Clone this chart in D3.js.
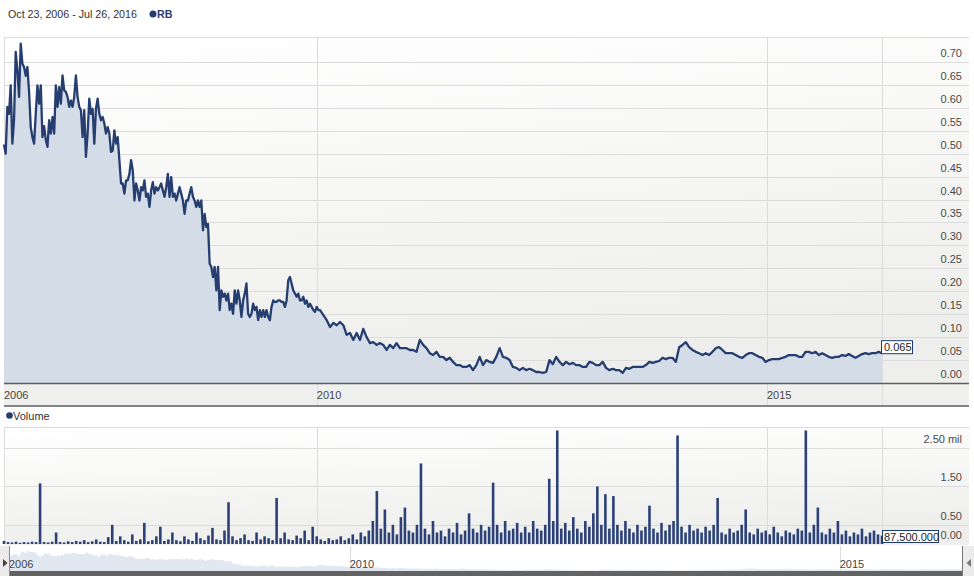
<!DOCTYPE html>
<html><head><meta charset="utf-8">
<script src="https://cdn.jsdelivr.net/npm/d3@7"></script>
<style>body{margin:0;background:#fff;} svg{display:block;font-family:Arial,"Liberation Sans",sans-serif;}</style>
</head><body><svg id="c" width="974" height="582"></svg>
<script>
// ---------------- DATA ----------------
const startDate = "2006-10-23", endDate = "2016-07-26";
const splitDateA = "2010-04-21", startDateB = "2010-04-28";
// weekly closes, Oct 2006 - Apr 2010
const priceA = [
0.520,0.500,0.602,0.587,0.649,0.522,0.573,0.722,0.682,0.624,
0.740,0.696,0.689,0.670,0.689,0.635,0.558,0.536,0.522,0.587,
0.649,0.609,0.649,0.536,0.560,0.530,0.515,0.573,0.544,0.580,
0.544,0.649,0.602,0.645,0.609,0.671,0.638,0.635,0.624,0.602,
0.616,0.602,0.624,0.671,0.624,0.602,0.595,0.536,0.595,0.493,
0.544,0.620,0.587,0.598,0.522,0.598,0.620,0.587,0.573,0.580,
0.566,0.544,0.558,0.544,0.504,0.507,0.551,0.522,0.536,0.486,
0.435,0.435,0.413,0.442,0.442,0.456,0.486,0.464,0.398,0.435,
0.420,0.398,0.427,0.420,0.442,0.406,0.413,0.384,0.420,0.438,
0.413,0.427,0.420,0.427,0.435,0.420,0.406,0.427,0.456,0.406,
0.449,0.406,0.413,0.398,0.413,0.427,0.413,0.398,0.369,0.398,
0.398,0.413,0.427,0.406,0.398,0.384,0.398,0.384,0.398,0.333,
0.369,0.340,0.347,0.260,0.253,0.231,0.253,0.202,0.253,0.159,
0.202,0.188,0.195,0.180,0.195,0.159,0.173,0.151,0.202,0.173,
0.202,0.180,0.144,0.180,0.195,0.217,0.151,0.144,0.151,0.173,
0.159,0.166,0.137,0.159,0.144,0.159,0.144,0.159,0.144,0.137,
0.166,0.180,0.177,0.177,0.180,0.180,0.177,0.177,0.166,0.180,
0.224,0.231,0.217,0.202,0.195,0.188,0.195,0.180,0.180,0.188,
0.173,0.180,0.166,0.173,0.166,0.159,0.155,0.166,0.159
];
// bi-weekly closes, Apr 2010 - Jul 2016
const priceB = [
0.159,0.148,0.137,0.122,0.131,0.126,0.133,0.126,0.105,0.109,
0.094,0.109,0.094,0.118,0.100,0.087,0.089,0.083,0.087,0.083,
0.072,0.083,0.076,0.087,0.076,0.076,0.076,0.072,0.072,0.068,
0.094,0.083,0.076,0.065,0.061,0.068,0.057,0.057,0.050,0.055,
0.046,0.039,0.039,0.035,0.035,0.039,0.028,0.039,0.057,0.039,
0.050,0.046,0.044,0.057,0.076,0.057,0.055,0.050,0.035,0.033,
0.028,0.033,0.028,0.031,0.028,0.024,0.024,0.022,0.024,0.050,
0.041,0.057,0.046,0.039,0.046,0.041,0.044,0.039,0.039,0.035,
0.035,0.046,0.044,0.039,0.039,
0.046,0.033,0.028,0.031,0.028,0.028,0.022,0.033,0.031,0.035,
0.035,0.035,0.035,0.039,0.046,0.044,0.046,0.048,0.055,0.052,
0.055,0.055,0.046,0.078,0.083,0.089,0.078,0.072,0.068,0.065,
0.061,0.065,0.061,0.068,0.076,0.078,0.072,0.065,0.065,0.065,
0.061,0.057,0.055,0.061,0.065,0.065,0.061,0.057,0.055,0.046,
0.050,0.052,0.052,0.052,0.055,0.057,0.061,0.061,0.061,0.057,
0.057,0.068,0.068,0.065,0.068,0.061,0.065,0.061,0.057,0.055,
0.057,0.057,0.061,0.059,0.063,0.059,0.055,0.059,0.063,0.065,
0.063,0.065,0.065,0.068,0.065
];
// volume in millions of shares (periodic bars)
const volume = [
0.08,0.05,0.04,0.06,0.03,0.05,0.04,0.06,0.05,1.58,
0.05,0.04,0.06,0.30,0.05,0.04,0.07,0.05,0.08,0.06,
0.10,0.05,0.07,0.12,0.06,0.05,0.18,0.50,0.08,0.20,
0.10,0.06,0.25,0.08,0.12,0.55,0.07,0.10,0.20,0.45,
0.08,0.12,0.30,0.10,0.07,0.20,0.12,0.08,0.30,0.15,
0.10,0.22,0.42,0.12,0.10,0.35,1.09,0.20,0.10,0.15,
0.25,0.10,0.08,0.30,0.12,0.20,0.15,0.10,1.20,0.15,
0.30,0.12,0.10,0.22,0.15,0.35,0.10,0.45,0.20,0.12,
0.08,0.15,0.10,0.12,0.20,0.10,0.15,0.25,0.12,0.30,
0.20,0.35,0.60,1.38,0.40,0.90,0.30,0.50,0.25,0.70,
0.95,0.35,0.30,0.50,2.10,0.40,0.25,0.60,0.30,0.35,
0.20,0.40,0.30,0.55,0.25,0.35,0.80,0.40,0.30,0.50,
0.35,0.45,1.60,0.50,0.30,0.60,0.35,0.40,0.55,0.30,
0.45,0.30,0.60,0.40,0.35,0.50,1.70,0.60,2.96,0.40,
0.55,0.35,0.70,0.40,0.30,0.60,0.45,0.80,1.50,0.50,
1.30,0.40,1.25,0.50,0.35,0.60,0.40,0.30,0.50,0.35,
0.45,1.00,0.40,0.30,0.55,0.35,0.50,0.60,2.83,0.45,
0.30,0.50,0.35,0.40,0.30,0.45,0.35,0.50,1.20,0.30,
0.25,0.40,0.30,0.35,0.50,0.90,0.30,0.25,0.40,0.30,
0.35,0.25,0.45,0.30,0.20,0.35,0.30,0.25,0.40,0.35,
2.96,0.30,0.50,0.95,0.30,0.25,0.40,0.30,0.60,0.25,
0.35,0.20,0.30,0.25,0.40,0.20,0.30,0.35,0.25,0.22
];
const priceTicks = [0,0.05,0.10,0.15,0.20,0.25,0.30,0.35,0.40,0.45,0.50,0.55,0.60,0.65,0.70];
const volTicks = [0, 0.5, 1.5, 2.5];
const volTickLabels = ["0.00","0.50","1.50","2.50 mil"];
const xTickDates = ["2006-10-23","2010-04-15","2015-04-16"];
const xTickLabels = ["2006","2010","2015"];
const headerRange = "Oct 23, 2006 - Jul 26, 2016";
const symbol = "RB";
const volumeTitle = "Volume";
const lastPriceLabel = "0.065";
const lastVolumeLabel = "87,500.000";

// ---------------- BUILD ----------------
const parse = d3.utcParse("%Y-%m-%d");
function spread(vals, a, b) {
  const t0 = +parse(a), t1 = +parse(b);
  return vals.map((v, i) => ({ date: new Date(t0 + (t1 - t0) * i / (vals.length - 1)), value: v }));
}
const series = spread(priceA, startDate, splitDateA).concat(spread(priceB, startDateB, endDate));
const volSeries = spread(volume, startDate, endDate);
const tickDates = xTickDates.map(parse);

const svg = d3.select("#c");
const navy = "#263d70";
const gridC = "#dcdcdc";
const L = 4, R = 882, FULLR = 969;
const pTop = 37, pBot = 383;
const vTop = 427, vBot = 544;
const nTop = 546, nBot = 571;

const x = d3.scaleTime().domain([parse(startDate), parse(endDate)]).range([L, R]);
const y = d3.scaleLinear().domain([0, 0.7545]).range([pBot, pTop]);
const yv = d3.scaleLinear().domain([0, 3.05]).range([vBot, vTop]);
const xn = d3.scaleTime().domain([parse(startDate), parse(endDate)]).range([9, 965]);
const yn = d3.scaleLinear().domain([0, 0.7545]).range([nBot, nTop + 4]);

const defs = svg.append("defs");
const g1 = defs.append("linearGradient").attr("id", "bg").attr("x1", 0).attr("y1", 0).attr("x2", 0.25).attr("y2", 1);
g1.append("stop").attr("offset", 0).attr("stop-color", "#ffffff");
g1.append("stop").attr("offset", 1).attr("stop-color", "#eeefec");

// header
svg.append("text").attr("x", 8).attr("y", 18).attr("font-size", 10.7).attr("fill", "#333").text(headerRange);
svg.append("circle").attr("cx", 153).attr("cy", 14).attr("r", 3.5).attr("fill", navy);
svg.append("text").attr("x", 157).attr("y", 18).attr("font-size", 10.7).attr("font-weight", "bold").attr("fill", "#2a3b6e").text(symbol);

// price panel
svg.append("rect").attr("x", L).attr("y", pTop).attr("width", FULLR - L).attr("height", pBot - pTop).attr("fill", "url(#bg)");
svg.append("g").selectAll("line").data(priceTicks.slice(1)).join("line")
  .attr("x1", L).attr("x2", FULLR).attr("y1", d => Math.round(y(d)) + 0.5).attr("y2", d => Math.round(y(d)) + 0.5)
  .attr("stroke", gridC);
svg.append("line").attr("x1", L).attr("x2", FULLR).attr("y1", pTop + 0.5).attr("y2", pTop + 0.5).attr("stroke", gridC);
svg.append("line").attr("x1", L + 0.5).attr("x2", L + 0.5).attr("y1", pTop).attr("y2", pBot).attr("stroke", gridC);
const vlines = tickDates.slice(1).map(d => x(d)).concat([R]);
svg.append("g").selectAll("line").data(vlines).join("line")
  .attr("x1", d => Math.round(d) + 0.5).attr("x2", d => Math.round(d) + 0.5).attr("y1", pTop).attr("y2", 406)
  .attr("stroke", gridC);

const area = d3.area().x(d => x(d.date)).y0(pBot).y1(d => y(d.value));
const line = d3.line().x(d => x(d.date)).y(d => y(d.value));
svg.append("path").datum(series).attr("d", area).attr("fill", "#d4dce7");
svg.append("path").datum(series).attr("d", line).attr("fill", "none").attr("stroke", navy).attr("stroke-width", 2.3).attr("stroke-linejoin", "round");

// price axis labels
svg.append("g").selectAll("text").data(priceTicks).join("text")
  .attr("x", 962).attr("y", d => y(d) - 5).attr("text-anchor", "end")
  .attr("font-size", 11).attr("fill", "#4a4a4a").text(d => d3.format(".2f")(d));

// last price box
const lp = series[series.length - 1];
const lpy = y(lp.value);
svg.append("rect").attr("x", R - 0.5).attr("y", lpy - 12.5).attr("width", 31).attr("height", 13)
  .attr("fill", "#fff").attr("stroke", "#1f3a6e").attr("stroke-width", 1);
svg.append("text").attr("x", R + 2).attr("y", lpy - 2).attr("font-size", 11).attr("fill", "#222").text(lastPriceLabel);

// x axis band
svg.append("rect").attr("x", L).attr("y", pBot).attr("width", FULLR - L).attr("height", 406 - pBot).attr("fill", "#f0f0ee");
svg.append("g").selectAll("line").data(vlines).join("line")
  .attr("x1", d => Math.round(d) + 0.5).attr("x2", d => Math.round(d) + 0.5).attr("y1", pBot).attr("y2", 406)
  .attr("stroke", gridC);
svg.append("line").attr("x1", L).attr("x2", FULLR).attr("y1", pBot + 0.5).attr("y2", pBot + 0.5).attr("stroke", "#5f5f5f").attr("stroke-width", 1.3);
svg.append("line").attr("x1", L).attr("x2", FULLR).attr("y1", 406).attr("y2", 406).attr("stroke", "#5f5f5f").attr("stroke-width", 1.3);
svg.append("g").selectAll("text").data(tickDates).join("text")
  .attr("x", d => x(d)).attr("y", 399).attr("font-size", 11).attr("fill", "#444")
  .text((d, i) => xTickLabels[i]);

// volume title
svg.append("circle").attr("cx", 9.5).attr("cy", 415.5).attr("r", 3.3).attr("fill", navy);
svg.append("text").attr("x", 13).attr("y", 420).attr("font-size", 11).attr("fill", "#333").text(volumeTitle);

// volume panel
svg.append("rect").attr("x", L).attr("y", vTop).attr("width", FULLR - L).attr("height", vBot - vTop + 1).attr("fill", "url(#bg)");
svg.append("g").selectAll("line").data(volTicks.slice(1)).join("line")
  .attr("x1", L).attr("x2", FULLR).attr("y1", d => Math.round(yv(d)) + 0.5).attr("y2", d => Math.round(yv(d)) + 0.5)
  .attr("stroke", gridC);
svg.append("line").attr("x1", L).attr("x2", FULLR).attr("y1", vTop + 0.5).attr("y2", vTop + 0.5).attr("stroke", gridC);
svg.append("line").attr("x1", L + 0.5).attr("x2", L + 0.5).attr("y1", vTop).attr("y2", vBot).attr("stroke", gridC);
svg.append("g").selectAll("line").data(vlines).join("line")
  .attr("x1", d => Math.round(d) + 0.5).attr("x2", d => Math.round(d) + 0.5).attr("y1", vTop).attr("y2", vBot)
  .attr("stroke", gridC);
svg.append("g").selectAll("rect").data(volSeries).join("rect")
  .attr("x", d => x(d.date) - 1.3).attr("width", 2.6)
  .attr("y", d => yv(d.value)).attr("height", d => vBot - yv(d.value))
  .attr("fill", "#2c4178");
svg.append("g").selectAll("text").data(volTicks).join("text")
  .attr("x", 962).attr("y", d => yv(d) - 5).attr("text-anchor", "end")
  .attr("font-size", 11).attr("fill", "#4a4a4a").text((d, i) => volTickLabels[i]);
svg.append("rect").attr("x", R + 0.5).attr("y", 530.5).attr("width", 56).attr("height", 12)
  .attr("fill", "#fff").attr("stroke", "#1f3a6e").attr("stroke-width", 1);
svg.append("text").attr("x", R + 2).attr("y", 540.5).attr("font-size", 11).attr("fill", "#222").text(lastVolumeLabel);

// navigator
svg.append("rect").attr("x", 0).attr("y", nTop).attr("width", 9).attr("height", 30).attr("fill", "#ebebeb");
const narea = d3.area().x(d => xn(d.date)).y0(nBot).y1(d => yn(d.value));
svg.append("path").datum(series).attr("d", narea).attr("fill", "#e2e8f1");
svg.append("g").selectAll("line").data(tickDates.slice(1)).join("line")
  .attr("x1", d => Math.round(xn(d)) + 0.5).attr("x2", d => Math.round(xn(d)) + 0.5).attr("y1", nTop).attr("y2", nBot)
  .attr("stroke", gridC);
svg.append("g").selectAll("text").data(tickDates).join("text")
  .attr("x", d => xn(d)).attr("y", 568).attr("font-size", 11).attr("fill", "#444")
  .text((d, i) => xTickLabels[i]);
svg.append("rect").attr("x", 9).attr("y", nBot).attr("width", 953).attr("height", 5).attr("fill", "#636363");
svg.append("line").attr("x1", 9.5).attr("x2", 9.5).attr("y1", nTop).attr("y2", nBot + 5).attr("stroke", "#888");
svg.append("line").attr("x1", 962.5).attr("x2", 962.5).attr("y1", nTop).attr("y2", nBot + 5).attr("stroke", "#777");
svg.append("rect").attr("x", 963).attr("y", nTop).attr("width", 11).attr("height", 30).attr("fill", "#ebebeb");
svg.append("path").attr("d", "M3,559 L7.5,563 L3,567 Z").attr("fill", "#444");
svg.append("path").attr("d", "M971,559 L966.5,563 L971,567 Z").attr("fill", "#777");
</script></body></html>
